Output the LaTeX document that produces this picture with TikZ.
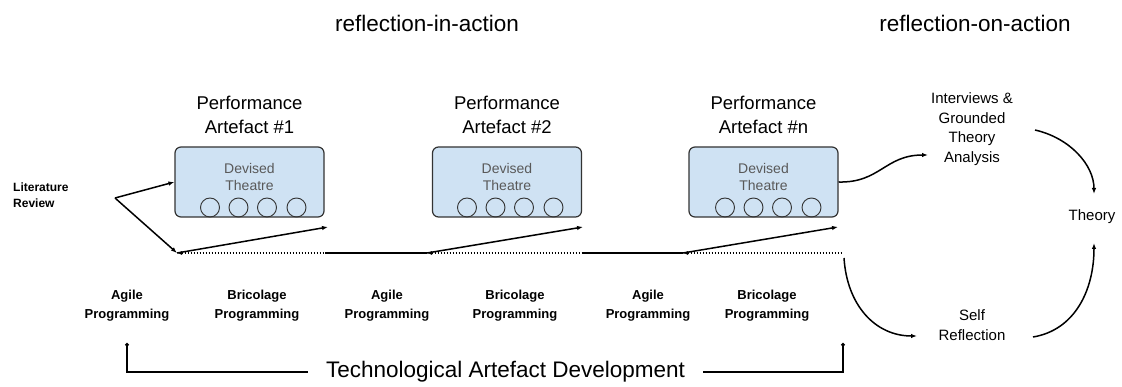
\documentclass[tikz,border=0pt]{standalone}
\usepackage{fontspec}
\setmainfont{Liberation Sans}
\usetikzlibrary{arrows.meta}
\definecolor{boxfill}{HTML}{CFE2F3}
\definecolor{boxline}{HTML}{333333}
\definecolor{devgray}{HTML}{595959}
\tikzset{
  head/.style={font=\fontsize{22.5}{27}\selectfont, inner sep=0pt},
  perf/.style={font=\fontsize{18.5}{24}\selectfont, align=center, inner sep=0pt},
  dbox/.style={draw=boxline, fill=boxfill, line width=1.2pt, rounded corners=6pt,
    minimum width=149pt, minimum height=70pt, inner sep=0pt},
  dev/.style={font=\fontsize{14}{17}\selectfont, text=devgray, align=center, inner sep=0pt},
  seat/.style={circle, draw=boxline, line width=0.9pt, minimum size=19pt, inner sep=0pt},
  lbl/.style={font=\bfseries\fontsize{13}{19}\selectfont, align=center, inner sep=0pt},
  lit/.style={font=\bfseries\fontsize{12}{16}\selectfont, align=left, inner sep=0pt},
  small/.style={font=\fontsize{15}{19.5}\selectfont, align=center, inner sep=0pt},
  tech/.style={font=\fontsize{22.5}{27}\selectfont, inner sep=0pt},
  arr/.style={-{Latex[length=6pt,width=4.5pt]}, line width=1.5pt},
  dotline/.style={{Latex[length=5pt,width=4pt]}-, line width=1.2pt, dash pattern=on 1.5pt off 1.5pt},
  brk/.style={line width=1.5pt}
}
\begin{document}
\begin{tikzpicture}[x=1pt,y=-1pt]
\useasboundingbox (0,0) rectangle (1122,387);

% headings
\node[head] (ria) at (427,23) {reflection-in-action};
\node[head] (roa) at (975,23) {reflection-on-action};

% performance artefacts
\node[perf] (p1) at (249.5,115) {Performance\\Artefact \#1};
\node[perf] (p2) at (507,115) {Performance\\Artefact \#2};
\node[perf] (p3) at (763.5,115) {Performance\\Artefact \#n};

\node[dbox] (b1) at (249.5,182) {};
\node[dbox] (b2) at (507,182) {};
\node[dbox] (b3) at (763.5,182) {};

\node[dev] (d1) at (249.5,176.5) {Devised\\Theatre};
\node[dev] (d2) at (507,176.5) {Devised\\Theatre};
\node[dev] (d3) at (763.5,176.5) {Devised\\Theatre};

\foreach \b/\l in {1/175, 2/432, 3/690}{
  \foreach \k/\o in {1/35, 2/63.5, 3/92, 4/121.5}{
    \node[seat] (s\b\k) at (\l+\o,207.5) {};
  }
}

% literature review
\node[lit, anchor=west] (lr) at (13,195) {Literature\\Review};
\coordinate (ls) at (115,198);

% timeline
\coordinate (m0) at (177,253);
\coordinate (m1) at (325,253);
\coordinate (m2) at (427,253);
\coordinate (m3) at (583,253);
\coordinate (m4) at (683,253);
\coordinate (m5) at (843,253);
\coordinate (t1) at (328,227);
\coordinate (t2) at (583,227);
\coordinate (t3) at (838,227);

\draw[arr] (ls) -- (b1.west);
\draw[arr] (ls) -- (m0);
\draw[dotline] (m0) -- (m1);
\draw[brk] (m1) -- (m2);
\draw[dotline] (m2) -- (m3);
\draw[brk] (m3) -- (m4);
\draw[dotline] (m4) -- (m5);
\draw[arr] (m0) -- (t1);
\draw[arr] (m2) -- (t2);
\draw[arr] (m4) -- (t3);

% programming labels
\node[lbl] (a1) at (127,306) {Agile\\Programming};
\node[lbl] (c1) at (257,306) {Bricolage\\Programming};
\node[lbl] (a2) at (387,306) {Agile\\Programming};
\node[lbl] (c2) at (515,306) {Bricolage\\Programming};
\node[lbl] (a3) at (648,306) {Agile\\Programming};
\node[lbl] (c3) at (767,306) {Bricolage\\Programming};

% technological artefact development
\node[tech] (tad) at (505.5,372) {Technological Artefact Development};
\coordinate (bl) at (127,343);
\coordinate (br) at (843,343);
\draw[brk, {Circle[length=3.5pt]}-] (bl) -- (bl |- tad) -- ([xshift=-18pt]tad.west);
\draw[brk, {Circle[length=3.5pt]}-] (br) -- (br |- tad) -- ([xshift=18pt]tad.east);

% reflection-on-action cycle
\node[small] (iv) at (972,129) {Interviews \&\\Grounded\\Theory\\Analysis};
\node[small] (th) at (1092,217) {Theory};
\node[small] (sr) at (972,325) {Self\\Reflection};

\coordinate (ivin) at (928,155);
\coordinate (ivout) at (1035,130);
\coordinate (thtop) at (1094,194);
\coordinate (thbot) at (1094,243);
\coordinate (srout) at (1033,337);
\coordinate (srin) at (917,336);
\coordinate (dstart) at (844,258);

\draw[arr] (b3.east) .. controls (880,183) and (885,155) .. (ivin);
\draw[arr] (ivout) .. controls (1070,138) and (1094,165) .. (thtop);
\draw[arr] (srout) .. controls (1075,330) and (1094,290) .. (thbot);
\draw[arr] (dstart) .. controls (847,305) and (875,336) .. (srin);
\end{tikzpicture}
\end{document}
